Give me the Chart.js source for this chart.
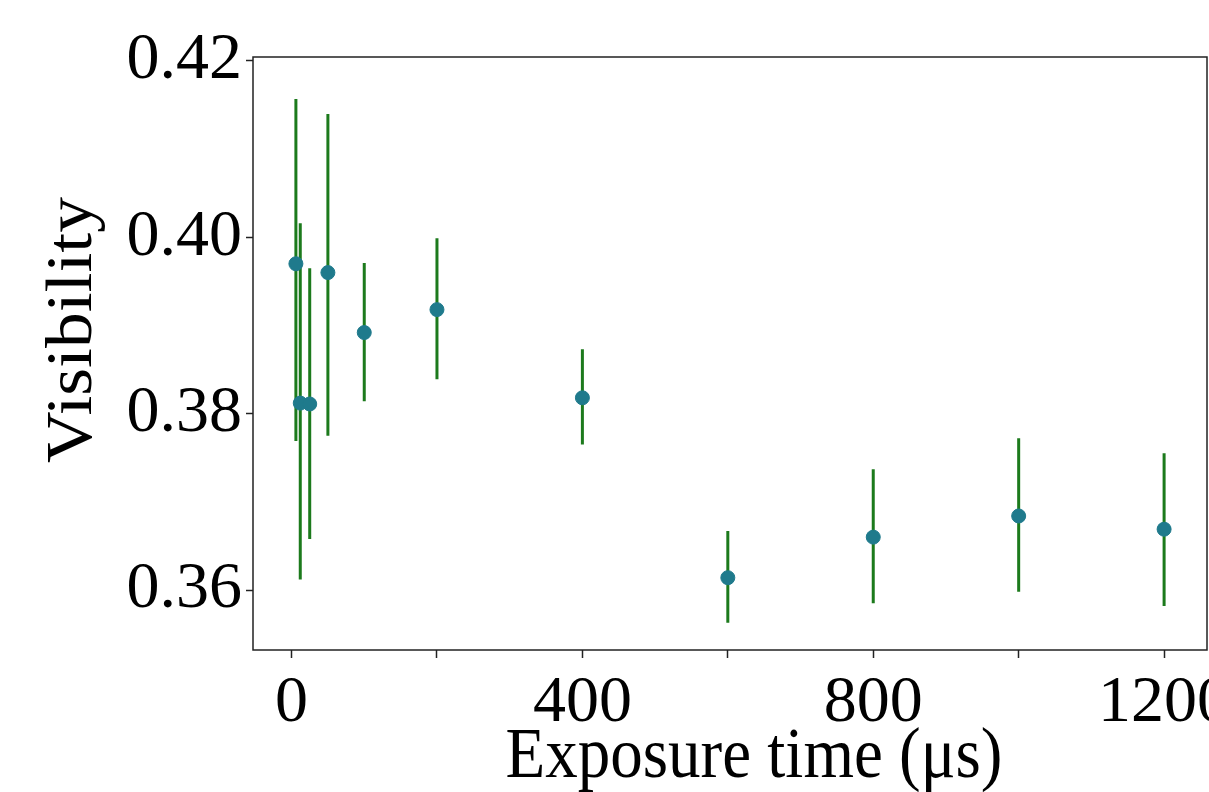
<!DOCTYPE html>
<html>
<head>
<meta charset="utf-8">
<script src="https://cdn.jsdelivr.net/npm/chart.js@4.4.0/dist/chart.umd.min.js"></script>
<style>
  html, body { margin:0; padding:0; background:#fff; }
  #wrap { width:1209px; height:792px; }
</style>
</head>
<body>
<div id="wrap"><canvas id="chart" width="1209" height="792"></canvas></div>
<script>
// ====== data ======
const exposure   = [6, 12, 25, 50, 100, 200, 400, 600, 800, 1000, 1200];           // µs
const visibility = [0.3970, 0.3812, 0.3811, 0.3960, 0.3892, 0.3918, 0.3818, 0.3614, 0.3660, 0.3684, 0.3669];
const errLow     = [0.3769, 0.3612, 0.3658, 0.3775, 0.3814, 0.3839, 0.3765, 0.3563, 0.3585, 0.3598, 0.3582];
const errHigh    = [0.4157, 0.4016, 0.3965, 0.4140, 0.3971, 0.3999, 0.3873, 0.3667, 0.3737, 0.3772, 0.3755];
const xTicks = [0, 200, 400, 600, 800, 1000, 1200];
const xLabeled = [0, 400, 800, 1200];
const yTicks = [0.36, 0.38, 0.40, 0.42];
const xTitle = 'Exposure time (μs)';
const yTitle = 'Visibility';

const serif = "'Liberation Serif', 'Times New Roman', serif";

// error bars as one line dataset, segments split by nulls
const errSegments = [];
exposure.forEach((x, i) => {
  errSegments.push({ x, y: errLow[i] }, { x, y: errHigh[i] }, { x, y: null });
});

// box round the plot area + axis titles (placed like the original figure)
const frame = {
  id: 'frame',
  afterDraw(chart){
    const { ctx, chartArea:a } = chart;
    ctx.save();
    ctx.strokeStyle = '#222';
    ctx.lineWidth = 1.5;
    ctx.strokeRect(a.left, a.top, a.right - a.left, a.bottom - a.top);

    ctx.fillStyle = '#000';
    ctx.font = `65px ${serif}`;
    ctx.textAlign = 'center';
    ctx.textBaseline = 'middle';

    ctx.save();
    ctx.translate(754, 758);
    ctx.scale(1, 1.1);
    ctx.fillText(xTitle, 0, 0);
    ctx.restore();

    ctx.save();
    ctx.translate(74, 330);
    ctx.rotate(-Math.PI / 2);
    ctx.scale(1.1, 1);
    ctx.fillText(yTitle, 0, 0);
    ctx.restore();

    ctx.restore();
  }
};

new Chart(document.getElementById('chart').getContext('2d'), {
  type: 'scatter',
  data: {
    datasets: [
      {
        label: 'points',
        data: exposure.map((x, i) => ({ x, y: visibility[i] })),
        backgroundColor: '#1f7a8c',
        borderColor: '#1f7a8c',
        pointRadius: 7,
        pointHoverRadius: 7,
        order: 0
      },
      {
        label: 'error',
        data: errSegments,
        showLine: true,
        spanGaps: false,
        borderColor: '#1c7a1c',
        borderWidth: 3,
        pointRadius: 0,
        order: 1
      }
    ]
  },
  options: {
    responsive: false,
    animation: false,
    layout: { autoPadding: false, padding: { left: 0, right: 2, top: 57, bottom: 0 } },
    plugins: { legend: { display:false }, tooltip: { enabled:false } },
    scales: {
      x: {
        type: 'linear',
        min: -53, max: 1259,
        afterBuildTicks: s => { s.ticks = xTicks.map(v => ({ value: v })); },
        afterFit: s => { s.height = 142; s.paddingRight = 0; s.paddingLeft = 0; },
        grid: { drawOnChartArea:false, drawTicks:true, tickLength:8, tickColor:'#222', tickWidth:1.5 },
        border: { display:false },
        ticks: {
          autoSkip: false, maxRotation: 0, padding: 6,
          color: '#000',
          font: { family: serif, size: 66 },
          callback: v => xLabeled.includes(v) ? String(v) : ''
        }
      },
      y: {
        type: 'linear',
        min: 0.3532, max: 0.42045,
        afterBuildTicks: s => { s.ticks = yTicks.map(v => ({ value: v })); },
        afterFit: s => { s.width = 253; s.paddingTop = 0; s.paddingBottom = 0; },
        grid: { drawOnChartArea:false, drawTicks:true, tickLength:7, tickColor:'#222', tickWidth:1.5 },
        border: { display:false },
        ticks: {
          padding: 4, color:'#000',
          font: { family: serif, size: 66 },
          callback: v => v.toFixed(2)
        }
      }
    }
  },
  plugins: [frame]
});
</script>
</body>
</html>
